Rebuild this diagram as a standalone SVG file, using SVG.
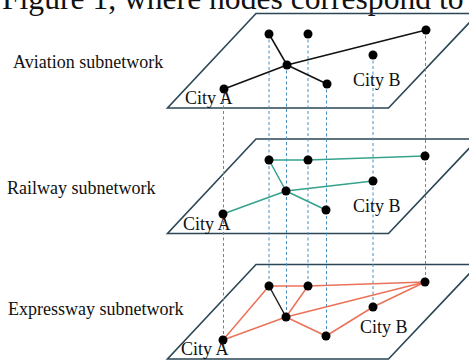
<svg xmlns="http://www.w3.org/2000/svg" width="469" height="360" viewBox="0 0 469 360">
<style>
text{font-family:"Liberation Serif","Times New Roman",serif;fill:#111}
.lbl{font-size:18px}
.plane{fill:none;stroke:#2b4654;stroke-width:1.6}
.drop{stroke:#4a8fbf;stroke-width:1;stroke-dasharray:3 2.5;fill:none}
.air{stroke:#111;stroke-width:1.5}
.rail{stroke:#35a28c;stroke-width:1.5}
.road{stroke:#ea7259;stroke-width:1.5}
.blk{stroke:#222;stroke-width:1.5}
circle{fill:#000}
</style>
<rect width="469" height="360" fill="#fff"/>
<text x="2" y="9" style="font-size:31.6px">Figure 1, where nodes correspond to</text>

<g id="planes">
<polygon class="plane" points="256,13.5 478,13.5 388.5,108 167.5,108"/>
<polygon class="plane" points="256,139 478,139 388.5,233.5 167.5,233.5"/>
<polygon class="plane" points="256,264.5 478,264.5 388.5,359 167.5,359"/>
</g>

<g id="connectors">
<g id="drops">
<line class="drop" x1="223.5" y1="89" x2="223.5" y2="340"/>
<line class="drop" x1="269" y1="34" x2="269" y2="286"/>
<line class="drop" x1="286.5" y1="65" x2="286.5" y2="317"/>
<line class="drop" x1="308" y1="34" x2="308" y2="286"/>
<line class="drop" x1="326.5" y1="84" x2="326.5" y2="336"/>
<line class="drop" x1="373" y1="55" x2="373" y2="307"/>
<line class="drop" x1="425.5" y1="30" x2="425.5" y2="282"/>
</g>
<g id="aviation-edges" class="air">
<line x1="269" y1="34" x2="287" y2="65"/>
<line x1="287" y1="65" x2="426" y2="30"/>
<line x1="287" y1="65" x2="327" y2="84"/>
<line x1="224" y1="89" x2="287" y2="65"/>
</g>
<g id="railway-edges" class="rail">
<line x1="269" y1="160" x2="308" y2="160"/>
<line x1="308" y1="160" x2="425" y2="156"/>
<line x1="269" y1="160" x2="286" y2="191"/>
<line x1="286" y1="191" x2="373" y2="181"/>
<line x1="286" y1="191" x2="326" y2="210"/>
<line x1="223" y1="214" x2="286" y2="191"/>
</g>
<g id="expressway-edges">
<line class="road" x1="223" y1="340" x2="269" y2="286"/>
<line class="road" x1="223" y1="340" x2="286" y2="317"/>
<line class="road" x1="269" y1="286" x2="308" y2="286"/>
<line class="road" x1="308" y1="286" x2="286" y2="317"/>
<line class="blk" x1="269" y1="286" x2="286" y2="317"/>
<line class="road" x1="286" y1="317" x2="425" y2="282"/>
<line class="road" x1="308" y1="286" x2="425" y2="282"/>
<line class="road" x1="286" y1="317" x2="326" y2="336"/>
<line class="road" x1="326" y1="336" x2="373" y2="307"/>
<line class="road" x1="373" y1="307" x2="425" y2="282"/>
</g>
</g>

<g id="aviation">
<text class="lbl" x="13" y="68">Aviation subnetwork</text>
<circle cx="269" cy="34" r="4.5"/>
<circle cx="308" cy="34" r="4.5"/>
<circle cx="426" cy="30" r="4.5"/>
<circle cx="373" cy="55" r="4.5"/>
<circle cx="287" cy="65" r="4.5"/>
<circle cx="327" cy="84" r="4.5"/>
<circle cx="224" cy="89" r="4.5"/>
<text class="lbl" x="185" y="104">City A</text>
<text class="lbl" x="353" y="86">City B</text>
</g>

<g id="railway">
<text class="lbl" x="7" y="194">Railway subnetwork</text>
<circle cx="269" cy="160" r="4.5"/>
<circle cx="308" cy="160" r="4.5"/>
<circle cx="425" cy="156" r="4.5"/>
<circle cx="373" cy="181" r="4.5"/>
<circle cx="286" cy="191" r="4.5"/>
<circle cx="326" cy="210" r="4.5"/>
<circle cx="223" cy="214" r="4.5"/>
<text class="lbl" x="183" y="230">City A</text>
<text class="lbl" x="353" y="212">City B</text>
</g>

<g id="expressway">
<text class="lbl" x="8" y="315">Expressway subnetwork</text>
<circle cx="269" cy="286" r="4.5"/>
<circle cx="308" cy="286" r="4.5"/>
<circle cx="425" cy="282" r="4.5"/>
<circle cx="373" cy="307" r="4.5"/>
<circle cx="286" cy="317" r="4.5"/>
<circle cx="326" cy="336" r="4.5"/>
<circle cx="223" cy="340" r="4.5"/>
<text class="lbl" x="181" y="355">City A</text>
<text class="lbl" x="360" y="333">City B</text>
</g>
</svg>
